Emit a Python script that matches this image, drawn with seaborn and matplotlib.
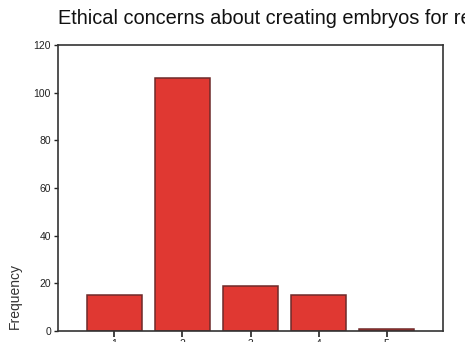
import matplotlib
matplotlib.use("Agg")
import matplotlib.pyplot as plt
import seaborn as sns
import pandas as pd

categories = ["1", "2", "3", "4", "5"]
frequencies = [15, 106, 19, 15, 1]
title_text = "Ethical concerns about creating embryos for research"
y_ticks = [0, 20, 40, 60, 80, 100, 120]

sns.set_theme(style="white")
plt.rcParams['font.family'] = ['Liberation Sans', 'DejaVu Sans']

df = pd.DataFrame({"category": categories, "frequency": frequencies})

fig = plt.figure(figsize=(4.65, 3.42), dpi=100)
ax = fig.add_axes([58/465, 1-331/342, (443-58)/465, (331-45)/342])

sns.barplot(data=df, x="category", y="frequency", ax=ax, color="#e03832",
            saturation=1, width=0.8, edgecolor="#6e2a2a", linewidth=1.1)

ax.set_xlim(-0.83, 4.83)
ax.set_ylim(0, 120)
ax.set_yticks(y_ticks)
ax.set_yticklabels([str(t) for t in y_ticks], fontsize=7.5, color="#222222")
ax.tick_params(axis="y", direction="out", length=3, width=1, pad=2, left=True, colors="#222222")
ax.tick_params(axis="x", direction="out", length=4, width=1.2, pad=2, bottom=True, labelsize=7.5, colors="#222222")
ax.set_xlabel("")
ax.set_ylabel("")
for s in ax.spines.values():
    s.set_color("#333333")
    s.set_linewidth(1.2)

fig.text(58/465, 1-19/342, title_text, fontsize=14.4, ha="left", va="center", color="#111111")
fig.text(15/465, 1-296/342, "Frequency", fontsize=10, rotation=90, ha="center", va="center", color="#333333")

fig.savefig("out.png", dpi=100)
